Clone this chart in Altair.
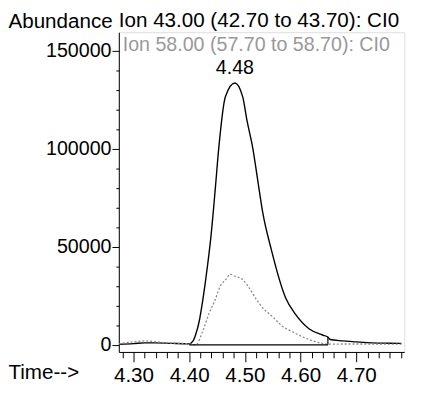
import altair as alt
import pandas as pd

# ---- data ----
t43 = [4.274, 4.300, 4.320, 4.340, 4.370, 4.400, 4.407, 4.412, 4.418, 4.424, 4.430, 4.439, 4.447,
       4.453, 4.465, 4.482, 4.496, 4.504, 4.514, 4.523, 4.532, 4.547, 4.573, 4.591, 4.615,
       4.639, 4.649, 4.653, 4.675, 4.700, 4.728, 4.758, 4.781]
v43 = [300, 600, 1000, 1000, 700, 500, 2000, 5500, 12000, 22000, 34000, 55000, 80000,
       100000, 126500, 133500, 126500, 114000, 100500, 84000, 67500, 49000, 24000, 15500, 8200,
       5000, 4000, 2700, 2000, 1500, 1000, 800, 700]

t58 = [4.274, 4.300, 4.320, 4.340, 4.360, 4.400, 4.412, 4.425, 4.435, 4.446, 4.456, 4.465,
       4.474, 4.482, 4.495, 4.504, 4.521, 4.530, 4.551, 4.565, 4.586, 4.615, 4.639, 4.649,
       4.675, 4.728, 4.781]
v58 = [500, 1500, 2000, 1500, 1000, 500, 0, 7500, 15500, 22500, 30000, 33000,
       36000, 35000, 33500, 30500, 23000, 19500, 14000, 10000, 6500, 2700, 700, 300,
       400, 400, 300]

ion_labels = ["Ion  43.00 (42.70 to 43.70): CI0", "Ion  58.00 (57.70 to 58.70): CI0"]
peak_time = 4.482
peak_value = 133500
peak_label = "4.48"
base_start, base_end, base_end_value = 4.400, 4.649, 4000

major_x = [4.30, 4.40, 4.50, 4.60, 4.70]
minor_x = [round(4.28 + 0.02 * i, 2) for i in range(26)]
minor_x = [v for v in minor_x if all(abs(v - m) > 1e-6 for m in major_x)]
major_y = [0, 50000, 100000, 150000]
minor_y = [v for v in range(0, 160000, 10000) if v not in major_y]

FONT = "Liberation Sans"

df43 = pd.DataFrame({"t": t43, "v": v43})
df58 = pd.DataFrame({"t": t58, "v": v58})

xscale = alt.Scale(domain=[4.2737, 4.786], nice=False, zero=False)
yscale = alt.Scale(domain=[-3650, 159350], nice=False, zero=False)

xaxis = alt.Axis(values=major_x, format=".2f", tickSize=10, tickColor="black", tickWidth=1,
                 domainColor="black", labelFontSize=21, labelColor="black", labelPadding=3,
                 labelFont=FONT, grid=False, title="Time-->", titleFont=FONT, titleFontSize=21,
                 titleFontWeight="normal", titleX=-113, titleY=27, titleAlign="left",
                 titleBaseline="alphabetic", titleColor="black", labelFlush=False)
yaxis = alt.Axis(values=major_y, format="d", tickSize=7, tickColor="black", domainColor="black",
                 labelFontSize=20, labelColor="black", labelPadding=1, labelFont=FONT, grid=False,
                 title="Abundance", titleAngle=0, titleX=-113, titleY=-5, titleAlign="left",
                 titleBaseline="alphabetic", titleFont=FONT, titleFontSize=21,
                 titleFontWeight="normal", titleColor="black", labelFlush=False)

main = alt.Chart(df43).mark_line(color="black", strokeWidth=1.4, interpolate="monotone").encode(
    x=alt.X("t:Q", scale=xscale, axis=xaxis),
    y=alt.Y("v:Q", scale=yscale, axis=yaxis),
)

line58 = alt.Chart(df58).mark_line(color="#8a8a8a", strokeWidth=1.3, strokeDash=[2, 2],
                                   interpolate="monotone").encode(
    x=alt.X("t:Q", scale=xscale, axis=alt.Axis(values=minor_x, tickSize=6, labels=False,
                                               domain=False, grid=False, title=None,
                                               orient="bottom", tickColor="black")),
    y=alt.Y("v:Q", scale=yscale, axis=alt.Axis(values=minor_y, tickSize=3, labels=False,
                                               domain=False, grid=False, title=None,
                                               orient="left", tickColor="black")),
)

base_df = pd.DataFrame({"t": [base_start, base_end], "v": [0, 0]})
baseline = alt.Chart(base_df).mark_line(color="black", strokeWidth=1.2).encode(
    x=alt.X("t:Q", scale=xscale, axis=None), y=alt.Y("v:Q", scale=yscale, axis=None))
vert_df = pd.DataFrame({"t": [base_end], "v": [0], "v2": [base_end_value]})
vert = alt.Chart(vert_df).mark_rule(color="black", strokeWidth=1.2).encode(
    x=alt.X("t:Q", scale=xscale, axis=None), y=alt.Y("v:Q", scale=yscale, axis=None), y2="v2:Q")

peak_df = pd.DataFrame({"t": [peak_time], "v": [peak_value], "label": [peak_label]})
peak = alt.Chart(peak_df).mark_text(font=FONT, fontSize=20, dy=-5, baseline="bottom",
                                    color="black").encode(
    x=alt.X("t:Q", scale=xscale, axis=None), y=alt.Y("v:Q", scale=yscale, axis=None),
    text="label:N")

ion43 = alt.Chart(pd.DataFrame({"label": [ion_labels[0]]})).mark_text(
    font=FONT, fontSize=21, align="left", baseline="alphabetic", color="black").encode(
    x=alt.value(0), y=alt.value(-5), text="label:N")
ion58 = alt.Chart(pd.DataFrame({"label": [ion_labels[1]]})).mark_text(
    font=FONT, fontSize=20, align="left", baseline="alphabetic", color="#999999").encode(
    x=alt.value(4), y=alt.value(19), text="label:N")

chart = alt.layer(main, line58, baseline, vert, peak, ion43, ion58).resolve_axis(
    x="independent", y="independent"
).properties(
    width=291, height=326,
    autosize=alt.AutoSizeParams(type="none"),
    padding={"left": 113, "top": 21, "right": 11, "bottom": 31},
).configure_view(stroke=None).configure(font=FONT, background="white")

chart.save("out.html", embed_options={"renderer": "svg", "actions": False})
